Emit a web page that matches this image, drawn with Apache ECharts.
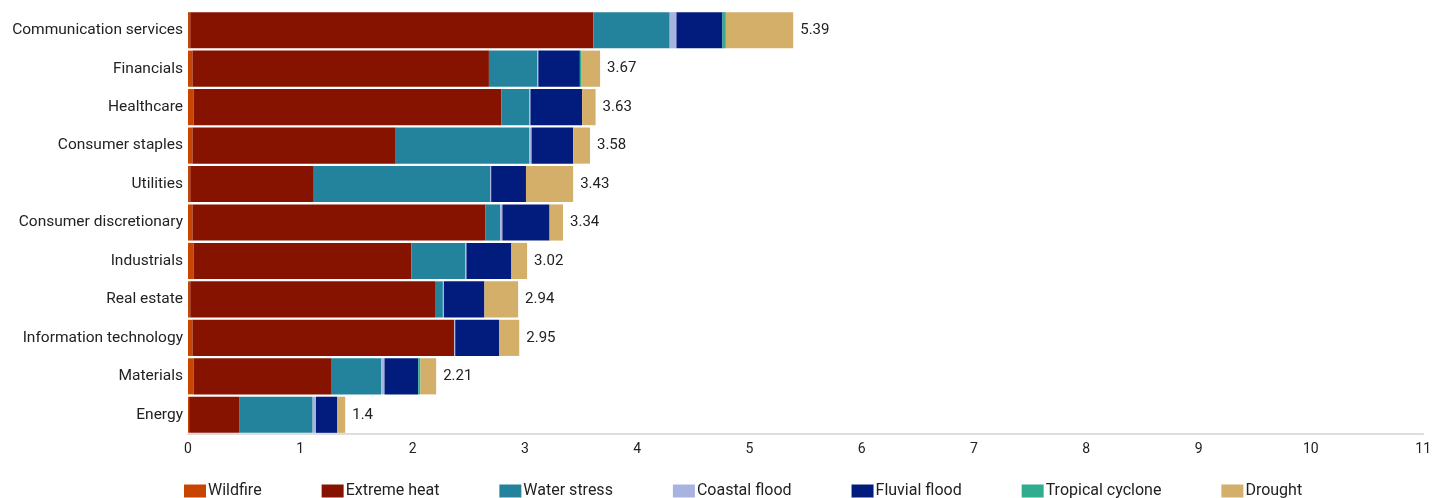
<!DOCTYPE html>
<html>
<head>
<meta charset="utf-8">
<script src="https://cdn.jsdelivr.net/npm/echarts@6/dist/echarts.min.js"></script>
<style>
  html, body { margin: 0; padding: 0; background: #fff; }
  #chart { width: 1434px; height: 498px; }
</style>
</head>
<body>
<div id="chart"></div>
<script>
// Sectors, top to bottom
const sectors = [
  'Communication services', 'Financials', 'Healthcare', 'Consumer staples',
  'Utilities', 'Consumer discretionary', 'Industrials', 'Real estate',
  'Information technology', 'Materials', 'Energy'
];

// Hazard contributions per sector
const wildfire        = [0.02, 0.04, 0.05, 0.04, 0.02, 0.04, 0.05, 0.02, 0.04, 0.05, 0.01];
const extremeHeat     = [3.59, 2.64, 2.74, 1.81, 1.10, 2.61, 1.94, 2.18, 2.33, 1.23, 0.45];
const waterStress     = [0.68, 0.43, 0.25, 1.19, 1.57, 0.13, 0.48, 0.07, 0.00, 0.44, 0.65];
const coastalFlood    = [0.06, 0.01, 0.01, 0.02, 0.01, 0.02, 0.01, 0.01, 0.01, 0.03, 0.03];
const fluvialFlood    = [0.41, 0.37, 0.46, 0.37, 0.31, 0.42, 0.40, 0.36, 0.39, 0.30, 0.19];
const tropicalCyclone = [0.03, 0.01, 0.00, 0.00, 0.00, 0.00, 0.00, 0.00, 0.00, 0.02, 0.00];
const drought         = [0.60, 0.17, 0.12, 0.15, 0.42, 0.12, 0.14, 0.30, 0.18, 0.14, 0.07];

const xTicks = [0, 1, 2, 3, 4, 5, 6, 7, 8, 9, 10, 11];

const hazards = [
  { name: 'Wildfire', data: wildfire, color: '#C84500' },
  { name: 'Extreme heat', data: extremeHeat, color: '#861300' },
  { name: 'Water stress', data: waterStress, color: '#24839C' },
  { name: 'Coastal flood', data: coastalFlood, color: '#A8B4DF' },
  { name: 'Fluvial flood', data: fluvialFlood, color: '#021C7D' },
  { name: 'Tropical cyclone', data: tropicalCyclone, color: '#2FAD8C' },
  { name: 'Drought', data: drought, color: '#D4AF6A' }
];

// Sum of all hazards per sector, shown at the end of each bar
const totals = sectors.map((_, i) =>
  parseFloat(hazards.reduce((s, h) => s + h.data[i], 0).toFixed(2)));

const FONT = 'Roboto';
const TXT = '#222222';

const series = hazards.map((h, k) => ({
  name: h.name,
  type: 'bar',
  stack: 'total',
  data: h.data,
  barCategoryGap: '6%',
  itemStyle: { color: h.color },
  emphasis: { disabled: true },
  label: k === hazards.length - 1 ? {
    show: true,
    position: 'right',
    distance: 7,
    color: TXT,
    fontFamily: FONT,
    fontSize: 15,
    formatter: p => String(totals[p.dataIndex])
  } : { show: false }
}));

const chart = echarts.init(document.getElementById('chart'), null, { renderer: 'canvas' });
chart.setOption({
  animation: false,
  backgroundColor: '#ffffff',
  textStyle: { fontFamily: FONT },
  grid: { left: 188, right: 7, top: 11, bottom: 64, containLabel: false },
  legend: {
    data: hazards.map(h => h.name),
    bottom: -6,
    left: 179,
    itemWidth: 22,
    itemHeight: 13,
    itemGap: 60,
    icon: 'rect',
    textStyle: { color: TXT, fontFamily: FONT, fontSize: 16, padding: [0, 0, 0, -3] }
  },
  xAxis: {
    type: 'value',
    min: xTicks[0],
    max: xTicks[xTicks.length - 1],
    interval: 1,
    axisLine: { show: true, lineStyle: { color: '#DDDDDD', width: 2 } },
    axisTick: { show: false },
    splitLine: { show: false },
    axisLabel: { color: TXT, fontFamily: FONT, fontSize: 14, margin: 8 }
  },
  yAxis: {
    type: 'category',
    data: sectors,
    inverse: true,
    axisLine: { show: false },
    axisTick: { show: false },
    axisLabel: { color: TXT, fontFamily: FONT, fontSize: 15.5, margin: 5 }
  },
  series: series
});
</script>
</body>
</html>
